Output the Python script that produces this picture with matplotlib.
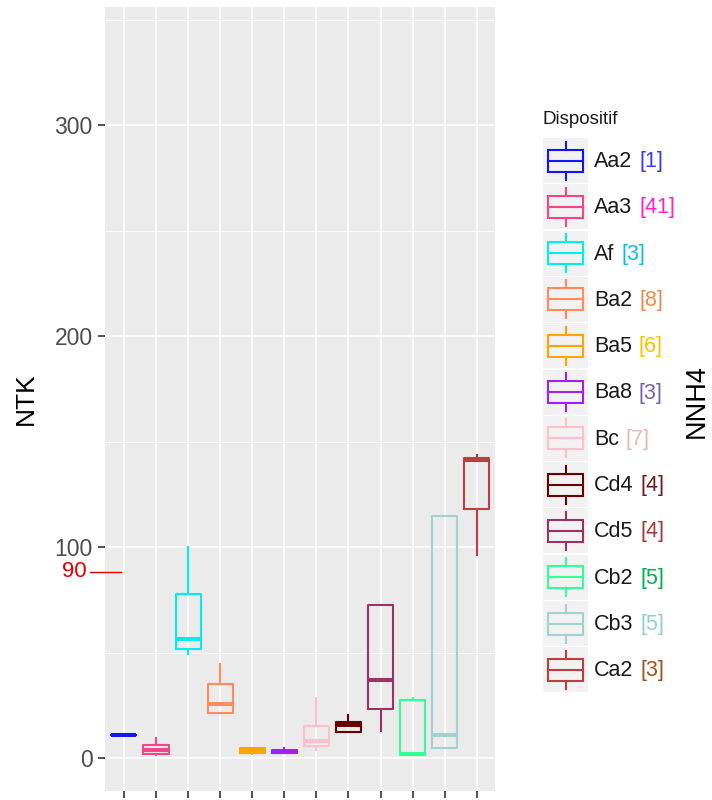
import numpy as np
import matplotlib
matplotlib.use("Agg")
import matplotlib.pyplot as plt
import matplotlib.transforms as mtransforms
from matplotlib.patches import Rectangle

plt.rcParams['font.family'] = ['Liberation Sans', 'DejaVu Sans']

# --- data ---
dispositifs = ['Aa2', 'Aa3', 'Af', 'Ba2', 'Ba5', 'Ba8', 'Bc', 'Cd4', 'Cd5', 'Cb2', 'Cb3', 'Ca2']
counts = ['[1]', '[41]', '[3]', '[8]', '[6]', '[3]', '[7]', '[4]', '[4]', '[5]', '[5]', '[3]']
whislo = [11, 1.5, 49.3, 21.6, 1.8, 2.7, 3.8, 12.3, 12.9, 1.4, 5.1, 96.5]
q1     = [11, 1.8, 52.0, 21.6, 2.7, 2.7, 5.7, 12.3, 23.5, 1.4, 5.1, 118.3]
med    = [11, 4.0, 56.7, 25.6, 3.5, 3.0, 8.2, 15.6, 37.0, 1.8, 11.0, 141.5]
q3     = [11, 6.2, 78.0, 35.4, 4.9, 4.1, 15.3, 17.2, 72.5, 27.8, 114.7, 142.5]
whishi = [11, 9.8, 99.9, 44.9, 4.9, 5.0, 28.8, 20.4, 72.5, 28.8, 114.7, 143.6]

box_colors = ['#1414F5', '#F0468C', '#00EEEE', '#FF8C5F', '#FFA500', '#A020F0',
              '#FFC0CB', '#660000', '#993366', '#33FF99', '#A3D1D1', '#B94040']
count_colors = ['#3A3AF0', '#FF22CC', '#11BBEE', '#F08A4B', '#FFC000', '#7B62A8',
                '#E8B8B8', '#6B1F1F', '#A33A3A', '#00B050', '#92CDDC', '#A0521F']

# red mark drawn at ~88 in the picture, labelled "90"
seuil = 88.3
seuil_label = '90'

fig = plt.figure(figsize=(7.12, 8), dpi=100)
ax = fig.add_axes([105/712, 1-791/800, 390/712, 784/800])
ax.set_facecolor('#EBEBEB')
for s in ax.spines.values():
    s.set_visible(False)

pos = np.arange(1, len(dispositifs)+1)
ax.set_xlim(0.41, 12.57)
ax.set_ylim(-15.5, 356)

# grid
for y in [50, 150, 250, 350]:
    ax.axhline(y, color='white', lw=0.6, zorder=0)
for y in [0, 100, 200, 300]:
    ax.axhline(y, color='white', lw=1.1, zorder=0)
for x in pos:
    ax.axvline(x, color='white', lw=1.1, zorder=0)

# boxes
for i in range(len(dispositifs)):
    st = [dict(whislo=whislo[i], q1=q1[i], med=med[i], q3=q3[i], whishi=whishi[i], fliers=[])]
    c = box_colors[i]
    ax.bxp(st, positions=[pos[i]], widths=0.78, showcaps=False, manage_ticks=False,
           boxprops=dict(color=c, lw=1.5),
           whiskerprops=dict(color=c, lw=1.5),
           medianprops=dict(color=c, lw=2.9, solid_capstyle='butt'))

ax.set_xticks(pos)
ax.set_xticklabels([''] * len(pos))
ax.set_yticks([0, 100, 200, 300])
ax.tick_params(axis='both', length=5, width=1.2, color='#333333')
ax.tick_params(axis='y', labelsize=16.5, labelcolor='#4D4D4D', pad=4)
ax.set_ylabel('NTK', fontsize=19, labelpad=12)

# threshold mark
trans = mtransforms.blended_transform_factory(ax.transAxes, ax.transData)
ax.plot([-0.038, 0.041], [seuil, seuil], color='#E00000', lw=1.0, transform=trans, clip_on=False)
ax.text(-0.046, seuil, seuil_label, color='#E00000', fontsize=16, ha='right', va='center',
        transform=trans)

fig.text(697/712, 1-401/800, 'NNH4', rotation=90, ha='center', va='center', fontsize=19.5)

# legend drawn by hand
lax = fig.add_axes([0, 0, 1, 1])
lax.set_xlim(0, 712)
lax.set_ylim(800, 0)
lax.axis('off')
lax.text(543, 119, 'Dispositif', fontsize=13.5, ha='left', va='center', color='#1A1A1A')
for i, name in enumerate(dispositifs):
    yc = 160.5 + i * 46.3
    c = box_colors[i]
    lax.add_patch(Rectangle((543, yc-22.5), 45, 45, facecolor='#F2F2F2', edgecolor='none'))
    lax.add_patch(Rectangle((548, yc-11), 35, 22, facecolor='none', edgecolor=c, lw=1.5))
    lax.plot([548, 583], [yc, yc], color=c, lw=1.5)
    lax.plot([565.5, 565.5], [yc-19, yc-11], color=c, lw=1.5)
    lax.plot([565.5, 565.5], [yc+11, yc+19], color=c, lw=1.5)
    t = lax.text(594, yc+1, name, fontsize=15.5, ha='left', va='center', color='#1A1A1A')
    lax.annotate(counts[i], xy=(1, 0.5), xycoords=t, xytext=(5, 0), textcoords='offset points',
                 fontsize=15.5, ha='left', va='center', color=count_colors[i])

fig.savefig('out.png', dpi=100)
